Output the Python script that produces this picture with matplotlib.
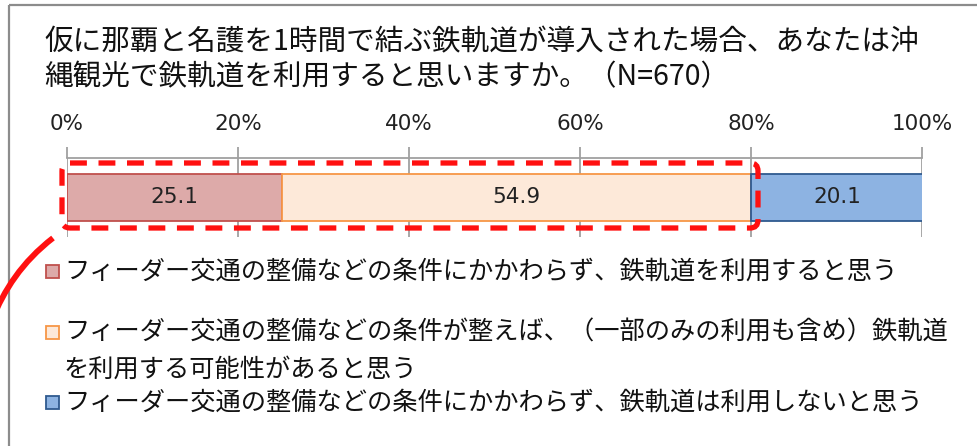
import matplotlib
matplotlib.use("Agg")
import matplotlib.pyplot as plt
from matplotlib.patches import FancyBboxPatch, Rectangle
from matplotlib.path import Path
from matplotlib.patches import PathPatch

plt.rcParams['font.family'] = ['Noto Sans CJK JP', 'DejaVu Sans']

# --- data ---
title_lines = ["仮に那覇と名護を1時間で結ぶ鉄軌道が導入された場合、あなたは沖",
               "縄観光で鉄軌道を利用すると思いますか。（N=670）"]
categories = ["フィーダー交通の整備などの条件にかかわらず、鉄軌道を利用すると思う",
              "フィーダー交通の整備などの条件が整えば、（一部のみの利用も含め）鉄軌道\nを利用する可能性があると思う",
              "フィーダー交通の整備などの条件にかかわらず、鉄軌道は利用しないと思う"]
values = [25.1, 54.9, 20.1]
tick_values = [0, 20, 40, 60, 80, 100]
tick_labels = ["0%", "20%", "40%", "60%", "80%", "100%"]

face_colors = ["#DDAAA9", "#FDE9D9", "#8DB3E2"]
edge_colors = ["#C0504D", "#F79646", "#2F5A8F"]

W, H = 977, 446
fig = plt.figure(figsize=(W / 100, H / 100), dpi=100)

# overlay in pixel coordinates for frame, titles, legend and callout
ov = fig.add_axes([0, 0, 1, 1], zorder=0)
ov.set_xlim(0, W)
ov.set_ylim(H, 0)
ov.axis('off')

# chart frame
ov.plot([9, W], [5, 5], color="#8C8C8C", lw=1.6, solid_capstyle='butt')
ov.plot([9, 9], [5, H], color="#8C8C8C", lw=1.6, solid_capstyle='butt')

# title
for i, line in enumerate(title_lines):
    ov.text(44, 42 + i * 35, line, fontsize=20.6, va='center', ha='left', color="#111111")

# bar axes
ax = fig.add_axes([67 / W, 1 - 237 / H, (922 - 67) / W, (237 - 158) / H], zorder=2)
ax.patch.set_alpha(0)
left = 0
for v, fc, ec in zip(values, face_colors, edge_colors):
    ax.barh(0, v, left=left, height=0.6, color=fc, edgecolor=ec, linewidth=1.3, zorder=3)
    ax.text(left + v / 2, 0, f"{v:.1f}", ha='center', va='center', fontsize=15.5,
            family='DejaVu Sans', color="#222222", zorder=4)
    left += v
ax.set_xlim(0, 100)
ax.set_ylim(-0.5, 0.5)
ax.xaxis.tick_top()
ax.set_xticks(tick_values)
ax.set_xticklabels(tick_labels, family='DejaVu Sans', fontsize=15.5, color="#222222")
ax.tick_params(axis='x', direction='out', length=8, width=1.3, color="#A0A0A0", pad=9)
ax.tick_params(axis='y', left=False, labelleft=False)
ax.grid(axis='x', color="#A0A0A0", lw=1.3, zorder=1)
for s in ['bottom', 'left', 'right']:
    ax.spines[s].set_visible(False)
ax.spines['top'].set_color("#A0A0A0")
ax.spines['top'].set_linewidth(1.3)

# red callout box and arc
top = fig.add_axes([0, 0, 1, 1], zorder=5)
top.set_xlim(0, W)
top.set_ylim(H, 0)
top.axis('off')
box = FancyBboxPatch((66, 167), 688, 57, boxstyle="round,pad=4,rounding_size=8",
                     fill=False, edgecolor="#FF1010", lw=3.8, linestyle=(0, (3.2, 2.2)))
top.add_patch(box)
arc = Path([(53, 238), (22, 262), (4, 290), (-8, 320)],
           [Path.MOVETO, Path.CURVE4, Path.CURVE4, Path.CURVE4])
top.add_patch(PathPatch(arc, fill=False, edgecolor="#FF1010", lw=4.2, capstyle='butt'))

# legend
legend_y = [272, 333, 403]
for label, fc, ec, y in zip(categories, face_colors, edge_colors, legend_y):
    ov.add_patch(Rectangle((45.5, y - 7), 13, 13, facecolor=fc, edgecolor=ec, lw=1.3))
    ov.text(64, y - 13, label, fontsize=18.2, va='top', ha='left', color="#111111",
            linespacing=1.55)

fig.savefig("out.png", dpi=100, facecolor="white")
